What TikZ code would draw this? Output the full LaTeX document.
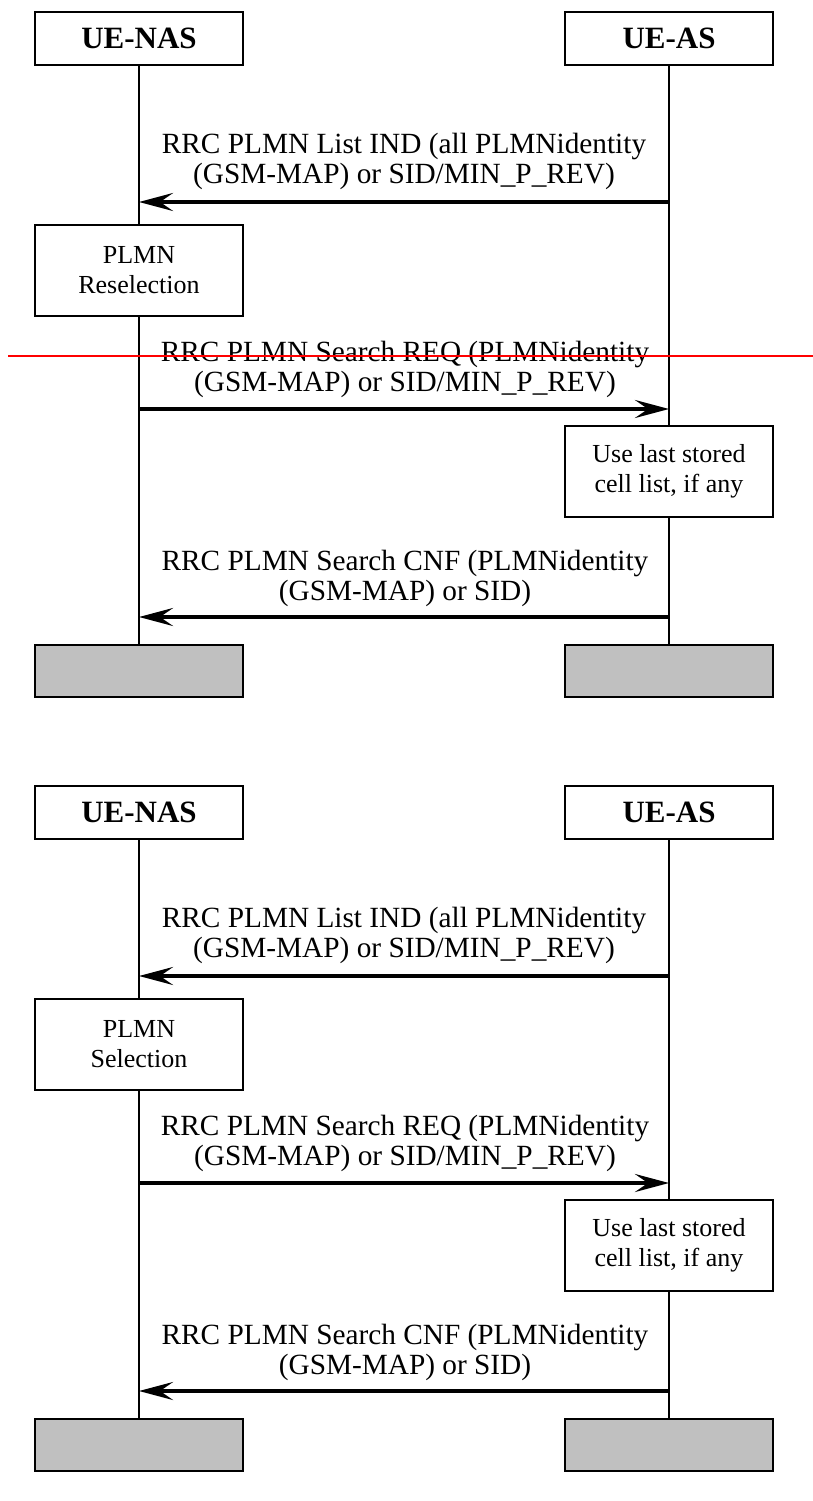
\documentclass[tikz,border=0pt]{standalone}
\usepackage{fontspec}
\setmainfont{Liberation Serif}
\usetikzlibrary{arrows.meta}

\definecolor{silver}{HTML}{C0C0C0}

\tikzset{
  entity/.style={draw, line width=1.4pt, fill=white, minimum width=208pt,
    minimum height=53pt, inner sep=0pt, font=\bfseries\fontsize{31}{34}\selectfont},
  action/.style={draw, line width=1.4pt, fill=white, minimum width=208pt,
    minimum height=91pt, inner sep=0pt, align=center, font=\fontsize{26}{30}\selectfont},
  endbox/.style={draw, line width=1.4pt, fill=silver, minimum width=208pt,
    minimum height=52pt, inner sep=0pt},
  msg/.style={align=center, inner sep=0pt, font=\fontsize{29.3}{30}\selectfont},
  lifeline/.style={line width=1.2pt},
  signal/.style={line width=4pt, -{Stealth[length=34pt,width=18pt,inset=13pt]}}
}

\begin{document}
\begin{tikzpicture}[x=1pt,y=-1pt]

        \useasboundingbox (0,0) rectangle (813,1501);

        \foreach \dy/\task/\i in {0/Reselection/1, 774/Selection/2} {

        % entities
        \node [entity] (nas\i) at (139,{38.5+\dy}) {UE-NAS} ;
        \node [entity] (as\i)  at (669,{38.5+\dy}) {UE-AS} ;

        % local actions
        \node [action] (plmn\i) at (139,{270.5+\dy}) {PLMN\\\task} ;
        \node [action] (cell\i) at (669,{471.5+\dy}) {Use last stored\\cell list, if any} ;

        \node [endbox] (nasend\i) at (139,{671+\dy}) {} ;
        \node [endbox] (asend\i)  at (669,{671+\dy}) {} ;

        % life lines
        \draw [lifeline] (nas\i) -- (plmn\i) ;
        \draw [lifeline] (plmn\i) -- (nasend\i) ;
        \draw [lifeline] (as\i) -- (cell\i) ;
        \draw [lifeline] (cell\i) -- (asend\i) ;

        % messages
        \coordinate (y1\i) at (0,{202+\dy}) ;
        \coordinate (y2\i) at (0,{409+\dy}) ;
        \coordinate (y3\i) at (0,{617+\dy}) ;

        \node [msg] (m1\i) at (404,{161.5+\dy}) {RRC PLMN List IND (all PLMNidentity\\(GSM-MAP) or SID/MIN\_P\_REV)} ;
        \node [msg] (m2\i) at (405,{369.5+\dy}) {RRC PLMN Search REQ (PLMNidentity\\(GSM-MAP) or SID/MIN\_P\_REV)} ;
        \node [msg] (m3\i) at (405,{578+\dy}) {RRC PLMN Search CNF (PLMNidentity\\(GSM-MAP) or SID)} ;

        \draw [signal] (as\i |- y1\i) -- (nas\i |- y1\i) ;
        \draw [signal] (nas\i |- y2\i) -- (as\i |- y2\i) ;
        \draw [signal] (as\i |- y3\i) -- (nas\i |- y3\i) ;
        }

        \draw [red, line width=1.5pt] (8,356) -- (813,356) ;

\end{tikzpicture}
\end{document}
